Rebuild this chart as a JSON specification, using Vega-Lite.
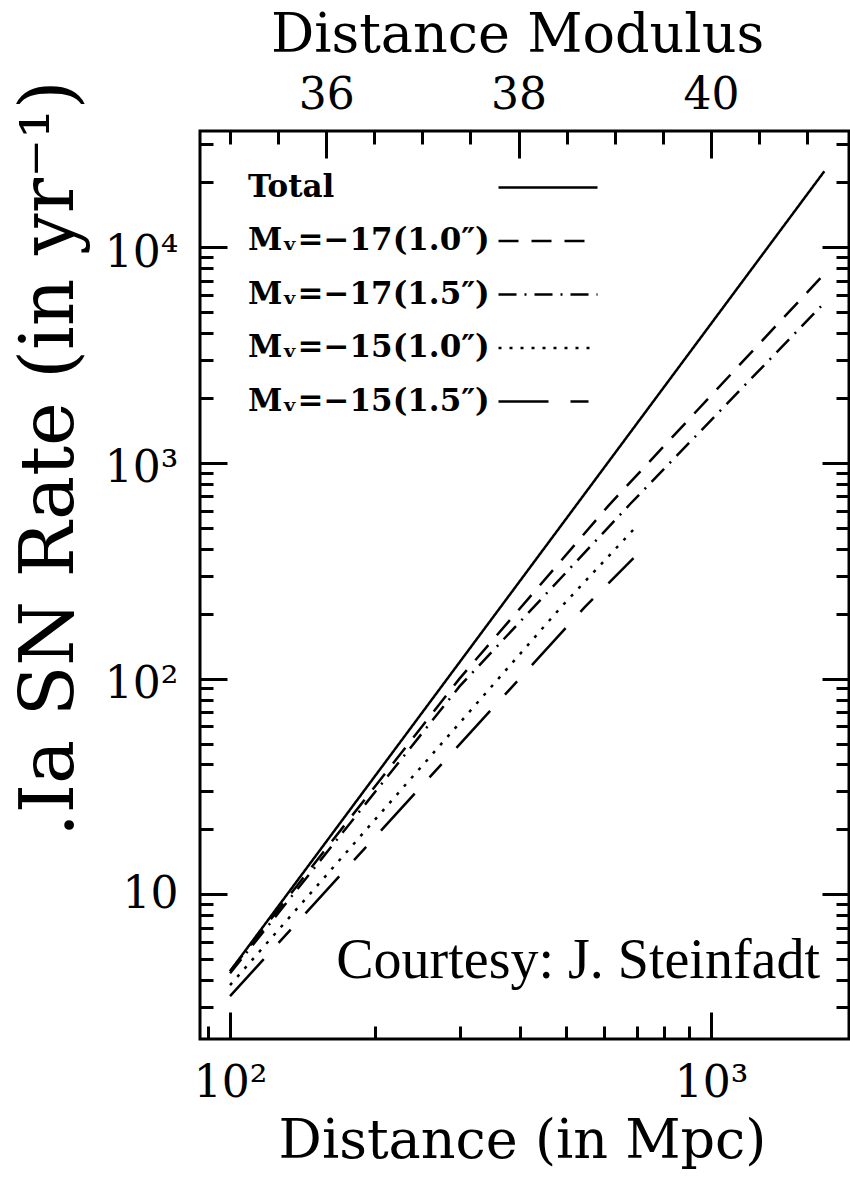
{
  "$schema": "https://vega.github.io/schema/vega-lite/v6.json",
  "autosize": {"type": "none"},
  "padding": {"left": 200, "top": 131, "right": 1, "bottom": 139},
  "width": 649,
  "height": 908,
  "background": "white",
  "config": {
    "view": {"stroke": "black", "strokeWidth": 3},
    "font": "DejaVu Serif",
    "axis": {
      "domain": false, "grid": false,
      "labelColor": "black", "titleColor": "black", "tickColor": "black",
      "tickWidth": 3, "labelFont": "DejaVu Serif", "titleFont": "DejaVu Serif",
      "titleFontWeight": "normal", "labelFontWeight": "normal"
    }
  },
  "datasets": {
    "lines": [
      {"series": "Total", "distance": 100, "rate": 4.4},
      {"series": "Total", "distance": 1720, "rate": 22500},
      {"series": "Mᵥ=−17(1.0″)", "distance": 100, "rate": 4.4},
      {"series": "Mᵥ=−17(1.0″)", "distance": 300, "rate": 100},
      {"series": "Mᵥ=−17(1.0″)", "distance": 611, "rate": 631},
      {"series": "Mᵥ=−17(1.0″)", "distance": 1720, "rate": 7520},
      {"series": "Mᵥ=−17(1.5″)", "distance": 100, "rate": 4.3},
      {"series": "Mᵥ=−17(1.5″)", "distance": 300, "rate": 92},
      {"series": "Mᵥ=−17(1.5″)", "distance": 679, "rate": 645},
      {"series": "Mᵥ=−17(1.5″)", "distance": 1720, "rate": 5520},
      {"series": "Mᵥ=−15(1.0″)", "distance": 100, "rate": 3.79},
      {"series": "Mᵥ=−15(1.0″)", "distance": 490, "rate": 217},
      {"series": "Mᵥ=−15(1.0″)", "distance": 690, "rate": 491},
      {"series": "Mᵥ=−15(1.5″)", "distance": 100, "rate": 3.37},
      {"series": "Mᵥ=−15(1.5″)", "distance": 547, "rate": 215},
      {"series": "Mᵥ=−15(1.5″)", "distance": 690, "rate": 362}
    ],
    "modulus": [{"mu": 36}, {"mu": 38}, {"mu": 40}],
    "credit": [{"note": "Courtesy: J. Steinfadt"}]
  },
  "layer": [
    {
      "data": {"name": "lines"},
      "mark": {"type": "line", "strokeWidth": 2.5, "color": "black"},
      "encoding": {
        "x": {
          "field": "distance", "type": "quantitative",
          "scale": {"type": "log", "domain": [86.6, 1936], "nice": false},
          "axis": {
            "orient": "bottom", "values": [100, 1000], "ticks": false, "tickSize": 0,
            "labelExpr": "datum.value == 100 ? '10²' : '10³'",
            "labelFontSize": 44, "labelPadding": 22, "labelFlush": false,
            "title": "Distance (in Mpc)", "titleFontSize": 54,
            "titleX": 322, "titleY": 118, "titleBaseline": "alphabetic", "titleAlign": "center"
          }
        },
        "y": {
          "field": "rate", "type": "quantitative",
          "scale": {"type": "log", "domain": [2.133, 34600], "nice": false},
          "axis": {
            "orient": "left", "values": [10, 100, 1000, 10000], "ticks": false, "tickSize": 0,
            "labelExpr": "datum.value == 10 ? '10' : datum.value == 100 ? '10²' : datum.value == 1000 ? '10³' : '10⁴'",
            "labelFontSize": 44, "labelPadding": 22, "labelBaseline": "middle", "labelFlush": false,
            "labelOffset": {"condition": {"test": "datum.value == 10", "value": 0}, "value": 6},
            "title": ".Ia SN Rate (in yr⁻¹)", "titleFontSize": 74,
            "titleAngle": 270, "titleX": -150, "titleY": 327, "titleBaseline": "middle", "titleAlign": "center"
          }
        },
        "strokeDash": {
          "field": "series", "type": "nominal",
          "scale": {
            "domain": ["Total", "Mᵥ=−17(1.0″)", "Mᵥ=−17(1.5″)", "Mᵥ=−15(1.0″)", "Mᵥ=−15(1.5″)"],
            "range": [[1, 0], [20, 13], [18, 8, 2, 8], [3, 8], [50, 22, 18, 22]]
          },
          "legend": {
            "orient": "none", "legendX": 330, "legendY": 38.5, "title": null, "padding": 0,
            "symbolType": "M-3,0H3", "symbolSize": 1089, "symbolStrokeWidth": 2.5,
            "symbolStrokeColor": "black", "symbolFillColor": "transparent",
            "labelOffset": -318, "labelAlign": "left", "labelBaseline": "middle",
            "labelFont": "DejaVu Serif", "labelFontSize": 31, "labelFontWeight": "bold",
            "labelColor": "black", "labelLimit": 0, "rowPadding": 20.5
          }
        }
      }
    },
    {
      "data": {"name": "lines"},
      "mark": {"type": "point", "opacity": 0},
      "encoding": {
        "x": {
          "field": "distance", "type": "quantitative",
          "scale": {"type": "log", "domain": [86.6, 1936], "nice": false},
          "axis": {"orient": "bottom", "values": [100, 1000], "labels": false, "tickSize": -27, "title": null}
        },
        "y": {
          "field": "rate", "type": "quantitative",
          "axis": {"orient": "left", "values": [10, 100, 1000, 10000], "labels": false, "tickSize": -27, "title": null}
        }
      }
    },
    {
      "data": {"name": "lines"},
      "mark": {"type": "point", "opacity": 0},
      "encoding": {
        "x": {
          "field": "distance", "type": "quantitative",
          "scale": {"type": "log", "domain": [86.6, 1936], "nice": false},
          "axis": {"orient": "bottom", "values": [90, 200, 300, 400, 500, 600, 700, 800, 900], "labels": false, "tickSize": -13, "title": null}
        },
        "y": {
          "field": "rate", "type": "quantitative",
          "axis": {"orient": "left", "values": [3, 4, 5, 6, 7, 8, 9, 20, 30, 40, 50, 60, 70, 80, 90, 200, 300, 400, 500, 600, 700, 800, 900, 2000, 3000, 4000, 5000, 6000, 7000, 8000, 9000, 20000, 30000], "labels": false, "tickSize": -13, "title": null}
        }
      }
    },
    {
      "data": {"name": "lines"},
      "mark": {"type": "point", "opacity": 0},
      "encoding": {
        "y": {
          "field": "rate", "type": "quantitative",
          "axis": {"orient": "right", "values": [10, 100, 1000, 10000], "labels": false, "tickSize": -27, "title": null}
        }
      }
    },
    {
      "data": {"name": "lines"},
      "mark": {"type": "point", "opacity": 0},
      "encoding": {
        "y": {
          "field": "rate", "type": "quantitative",
          "axis": {"orient": "right", "values": [3, 4, 5, 6, 7, 8, 9, 20, 30, 40, 50, 60, 70, 80, 90, 200, 300, 400, 500, 600, 700, 800, 900, 2000, 3000, 4000, 5000, 6000, 7000, 8000, 9000, 20000, 30000], "labels": false, "tickSize": -13, "title": null}
        }
      }
    },
    {
      "data": {"name": "modulus"},
      "mark": {"type": "point", "opacity": 0},
      "encoding": {
        "x": {
          "field": "mu", "type": "quantitative",
          "scale": {"type": "linear", "domain": [34.688, 41.435], "nice": false, "zero": false},
          "axis": {
            "orient": "top", "values": [36, 38, 40], "ticks": false, "tickSize": 0,
            "labelFontSize": 44, "labelPadding": 23, "labelBaseline": "alphabetic", "labelFlush": false,
            "title": "Distance Modulus", "titleFontSize": 54,
            "titleX": 317, "titleY": -80, "titleBaseline": "alphabetic", "titleAlign": "center"
          }
        }
      }
    },
    {
      "data": {"name": "modulus"},
      "mark": {"type": "point", "opacity": 0},
      "encoding": {
        "x": {
          "field": "mu", "type": "quantitative",
          "scale": {"type": "linear", "domain": [34.688, 41.435], "nice": false, "zero": false},
          "axis": {"orient": "top", "values": [36, 38, 40], "labels": false, "tickSize": -27, "title": null}
        }
      }
    },
    {
      "data": {"name": "modulus"},
      "mark": {"type": "point", "opacity": 0},
      "encoding": {
        "x": {
          "field": "mu", "type": "quantitative",
          "scale": {"type": "linear", "domain": [34.688, 41.435], "nice": false, "zero": false},
          "axis": {"orient": "top", "values": [35, 35.5, 36.5, 37, 37.5, 38.5, 39, 39.5, 40.5, 41], "labels": false, "tickSize": -13, "title": null}
        }
      }
    },
    {
      "data": {"name": "credit"},
      "mark": {"type": "text", "align": "right", "baseline": "alphabetic", "font": "Liberation Serif", "fontSize": 56, "color": "black"},
      "encoding": {
        "text": {"field": "note", "type": "nominal"},
        "x": {"datum": 1685, "type": "quantitative", "scale": {"type": "log", "domain": [86.6, 1936], "nice": false}, "axis": null},
        "y": {"datum": 4.09, "type": "quantitative", "axis": null}
      }
    }
  ],
  "resolve": {
    "scale": {"x": "independent", "y": "shared"},
    "axis": {"x": "independent", "y": "independent"}
  }
}
